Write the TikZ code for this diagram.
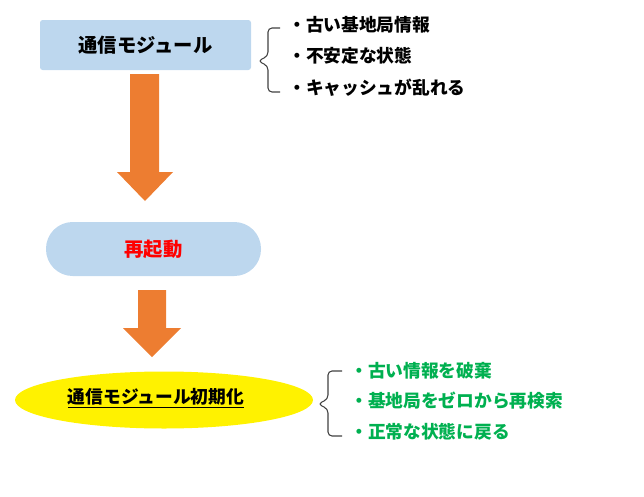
\documentclass[tikz,border=0pt]{standalone}
\usepackage{fontspec}
\setmainfont{Noto Sans CJK JP}
\usepackage{xcolor}
\definecolor{boxblue}{HTML}{BDD7EE}
\definecolor{arroworange}{HTML}{ED7D31}
\definecolor{initgreen}{HTML}{00B050}
\definecolor{bracegray}{HTML}{404040}
\usepackage{tikz}
\usetikzlibrary{shapes.geometric,positioning}

\begin{document}
\begin{tikzpicture}[x=0.75pt,y=-0.75pt,
    stepbox/.style={fill=boxblue, draw=none, font=\bfseries\fontsize{14.5pt}{16pt}\selectfont},
    item/.style={anchor=west, inner sep=0pt, font=\bfseries\fontsize{13.3pt}{15pt}\selectfont},
    brace/.style={draw=bracegray, line width=0.8pt, rounded corners=3pt},
    fatarrow/.style={fill=arroworange, draw=none}]
  \useasboundingbox (0,0) rectangle (644,497);

  % module box and its notes
  \node[stepbox, rectangle, rounded corners=2pt, minimum width=158.25pt, minimum height=37.5pt] (module) at (145.5,45) {通信モジュール};
  \draw[brace] (280,28) -- (268,28) -- (268,56) -- (258,61) -- (268,66) -- (268,92) -- (280,92);
  \node[item] (oldinfo) at (288,25) {・古い基地局情報};
  \node[item] (unstable) at (288,56) {・不安定な状態};
  \node[item] (cache) at (288,88) {・キャッシュが乱れる};

  \fill[fatarrow] (130,74) -- (159,74) -- (159,172) -- (173,172) -- (145,201) -- (117,172) -- (130,172) -- cycle;

  % restart
  \node[stepbox, rectangle, rounded corners=20pt, minimum width=161.25pt, minimum height=40.5pt, text=red] (restart) at (153.5,249) {再起動};

  \fill[fatarrow] (138,290) -- (166,290) -- (166,328) -- (181,328) -- (152,357) -- (123,328) -- (138,328) -- cycle;

  % initialisation
  \node[ellipse, fill=yellow, minimum width=223.5pt, minimum height=42.75pt, inner sep=0pt] (init) at (164,400) {};
  \node[font=\bfseries\fontsize{13.3pt}{15pt}\selectfont] (initlabel) at (156,398) {\underline{通信モジュール初期化}};
  \draw[brace] (342,371) -- (328,371) -- (328,399) -- (318,404) -- (328,409) -- (328,436) -- (342,436);
  \node[item, text=initgreen] (discard) at (350,371) {・古い情報を破棄};
  \node[item, text=initgreen] (rescan) at (350,401) {・基地局をゼロから再検索};
  \node[item, text=initgreen] (normal) at (350,432) {・正常な状態に戻る};
\end{tikzpicture}
\end{document}
